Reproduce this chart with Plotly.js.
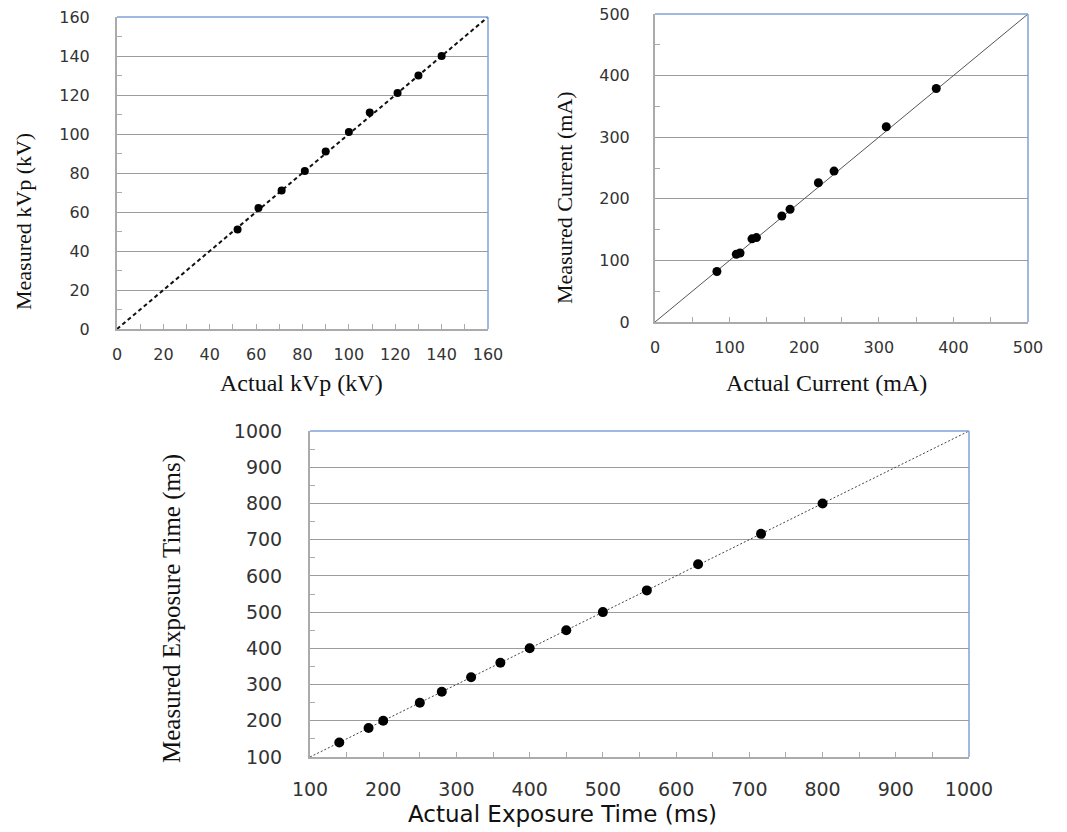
<!DOCTYPE html>
<html>
<head>
<meta charset="utf-8">
<script src="https://cdn.plot.ly/plotly-3.0.1.min.js"></script>
<style>html,body{margin:0;padding:0;background:#fff;}#chart{width:1067px;height:832px;}</style>
</head>
<body>
<div id="chart"></div>
<script>
// ---- Data ----
// Chart 1: kVp
const kvpActual   = [52, 61, 71, 81, 90, 100, 109, 121, 130, 140];
const kvpMeasured = [51, 62, 71, 81, 91, 101, 111, 121, 130, 140];
const kvpLineX = [0, 160];
const kvpLineY = [0, 160];
// Chart 2: current
const curActual   = [83, 109, 114, 130, 136, 170, 181, 219, 240, 310, 377];
const curMeasured = [82, 110, 112, 135, 137, 172, 183, 226, 245, 317, 379];
const curLineX = [0, 500];
const curLineY = [0, 500];
// Chart 3: exposure time
const expActual   = [140, 180, 200, 250, 280, 320, 360, 400, 450, 500, 560, 630, 716, 800];
const expMeasured = [140, 180, 200, 250, 280, 320, 360, 400, 450, 500, 560, 632, 716, 800];
const expLineX = [100, 1000];
const expLineY = [100, 1000];

// Titles
const t1x = 'Actual kVp (kV)', t1y = 'Measured kVp (kV)';
const t2x = 'Actual Current (mA)', t2y = 'Measured Current (mA)';
const t3x = 'Actual Exposure Time (ms)', t3y = 'Measured Exposure Time (ms)';

const W = 1067, H = 832;
const px = v => v / W;
const py = v => 1 - v / H;

const GRID = '#9c9c9c', AXIS = '#ababab', BLUE = '#7ea3d8', TICKC = '#333';
const sans = 'DejaVu Sans, Verdana, sans-serif';
const serif = 'Liberation Serif, Times New Roman, serif';

function mkAxis(dom, range, dtick, minorTick0, minorDtick, isY, fsize, standoff) {
  const a = {
    domain: dom, range: range, dtick: dtick, tick0: range[0],
    showline: true, linecolor: AXIS, linewidth: 2,
    showgrid: isY, gridcolor: GRID, gridwidth: 1,
    zeroline: false, fixedrange: true,
    tickfont: {family: sans, size: fsize, color: TICKC},
    ticklabelstandoff: standoff,
    minor: {ticks: 'inside', tick0: minorTick0, dtick: minorDtick, ticklen: 5, tickcolor: AXIS, tickwidth: 1, showgrid: false}
  };
  if (isY) { a.ticks = ''; }
  else { a.ticks = 'inside'; a.ticklen = 5; a.tickcolor = AXIS; a.tickwidth = 1; }
  return a;
}

const traces = [
  {x: kvpLineX, y: kvpLineY, xaxis: 'x', yaxis: 'y', mode: 'lines', line: {color: '#111', width: 2, dash: '4px,3px'}, hoverinfo: 'skip'},
  {x: kvpActual, y: kvpMeasured, xaxis: 'x', yaxis: 'y', mode: 'markers', marker: {color: '#000', size: 8}},
  {x: curLineX, y: curLineY, xaxis: 'x2', yaxis: 'y2', mode: 'lines', line: {color: '#555', width: 1}, hoverinfo: 'skip'},
  {x: curActual, y: curMeasured, xaxis: 'x2', yaxis: 'y2', mode: 'markers', marker: {color: '#000', size: 9}},
  {x: expLineX, y: expLineY, xaxis: 'x3', yaxis: 'y3', mode: 'lines', line: {color: '#444', width: 1, dash: '2px,2px'}, hoverinfo: 'skip'},
  {x: expActual, y: expMeasured, xaxis: 'x3', yaxis: 'y3', mode: 'markers', marker: {color: '#000', size: 10}}
];

const d1x = [px(117), px(488)], d1y = [py(329), py(17)];
const d2x = [px(655), px(1028)], d2y = [py(322), py(14)];
const d3x = [px(310), px(969)], d3y = [py(757), py(431)];

function border(xr, yr) {
  return [
    {type: 'line', xref: xr + ' domain', yref: yr + ' domain', x0: 0, x1: 1, y0: 1, y1: 1, line: {color: BLUE, width: 1.5}},
    {type: 'line', xref: xr + ' domain', yref: yr + ' domain', x0: 1, x1: 1, y0: 0, y1: 1, line: {color: BLUE, width: 1.5}}
  ];
}

function ann(text, x, y, font, angle) {
  return {text: text, xref: 'paper', yref: 'paper', x: px(x), y: py(y), xanchor: 'center', yanchor: 'middle',
          showarrow: false, textangle: angle || 0, font: font};
}

const layout = {
  width: W, height: H, margin: {l: 0, r: 0, t: 0, b: 0},
  paper_bgcolor: '#fff', plot_bgcolor: '#fff', showlegend: false,
  xaxis: mkAxis(d1x, [0, 160], 20, 10, 10, false, 16, 10),
  yaxis: mkAxis(d1y, [0, 160], 20, 10, 20, true, 16, 22),
  xaxis2: Object.assign(mkAxis(d2x, [0, 500], 100, 50, 50, false, 16, 10), {anchor: 'y2'}),
  yaxis2: Object.assign(mkAxis(d2y, [0, 500], 100, 50, 100, true, 16, 20), {anchor: 'x2'}),
  xaxis3: Object.assign(mkAxis(d3x, [100, 1000], 100, 150, 50, false, 19, 14), {anchor: 'y3'}),
  yaxis3: Object.assign(mkAxis(d3y, [100, 1000], 100, 150, 100, true, 19, 22), {anchor: 'x3'}),
  shapes: [].concat(border('x', 'y'), border('x2', 'y2'), border('x3', 'y3')),
  annotations: [
    ann(t1x, 301, 383, {family: serif, size: 24, color: '#111'}),
    ann(t1y, 23, 222, {family: serif, size: 22, color: '#111'}, -90),
    ann(t2x, 826, 383, {family: serif, size: 24, color: '#111'}),
    ann(t2y, 565, 198, {family: serif, size: 22, color: '#111'}, -90),
    ann(t3x, 562, 814, {family: sans, size: 23, color: '#111'}),
    ann(t3y, 172, 609, {family: serif, size: 25, color: '#111'}, -90)
  ]
};
layout.xaxis.anchor = 'y';
layout.yaxis.anchor = 'x';

Plotly.newPlot('chart', traces, layout, {staticPlot: true, displayModeBar: false});
</script>
</body>
</html>
